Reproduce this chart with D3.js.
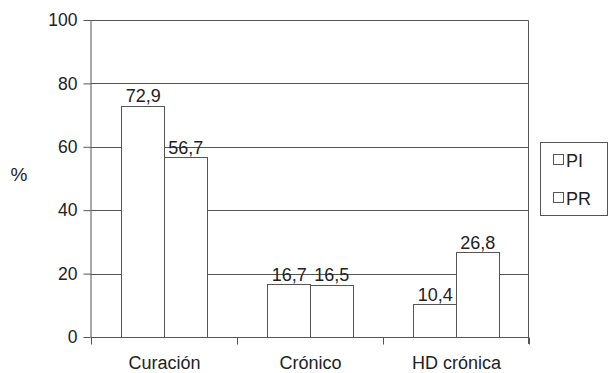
<!DOCTYPE html>
<html>
<head>
<meta charset="utf-8">
<script src="https://cdnjs.cloudflare.com/ajax/libs/d3/7.8.5/d3.min.js"></script>
<style>
  html, body { margin: 0; padding: 0; background: #fff; }
  svg { display: block; font-family: "Liberation Sans", Arial, Helvetica, sans-serif; }
</style>
</head>
<body>
<svg id="chart" width="609" height="373"></svg>
<script>
// Outcome categories and percentages per group
const categories = ["Curación", "Crónico", "HD crónica"];
const seriesNames = ["PI", "PR"];
const valuesPI = [72.9, 16.7, 10.4];
const valuesPR = [56.7, 16.5, 26.8];
const yTicks = [0, 20, 40, 60, 80, 100];

const fmt = v => String(v).replace(".", ",");

const svg = d3.select("#chart");
const margin = { left: 90.5, right: 528.5, top: 20, bottom: 337 };
const lineColor = "#555";
const textColor = "#222";

const x = d3.scaleBand()
  .domain(categories)
  .range([margin.left, margin.right])
  .paddingInner(0)
  .paddingOuter(0);

const inner = d3.scaleBand()
  .domain(seriesNames)
  .range([0, x.bandwidth()])
  .paddingOuter(0.717)
  .paddingInner(0);

const y = d3.scaleLinear().domain([0, 100]).range([margin.bottom, margin.top]);

// Horizontal gridlines
svg.append("g")
  .selectAll("line")
  .data(yTicks.filter(t => t > 0))
  .join("line")
  .attr("x1", margin.left).attr("x2", margin.right)
  .attr("y1", d => Math.round(y(d)) + 0.5).attr("y2", d => Math.round(y(d)) + 0.5)
  .attr("stroke", lineColor).attr("stroke-width", 1);

// Right border of plot area
svg.append("line")
  .attr("x1", margin.right).attr("x2", margin.right)
  .attr("y1", Math.round(y(100)) + 0.5).attr("y2", Math.round(y(0)) + 7)
  .attr("stroke", lineColor);

// Bars
const rows = [];
categories.forEach((c, i) => {
  rows.push({ cat: c, s: "PI", v: valuesPI[i] });
  rows.push({ cat: c, s: "PR", v: valuesPR[i] });
});

svg.append("g")
  .selectAll("rect")
  .data(rows)
  .join("rect")
  .attr("x", d => Math.round(x(d.cat) + inner(d.s)) + 0.5)
  .attr("y", d => Math.round(y(d.v)) + 0.5)
  .attr("width", Math.round(inner.bandwidth()))
  .attr("height", d => Math.round(y(0)) - Math.round(y(d.v)))
  .attr("fill", "#fff")
  .attr("stroke", lineColor)
  .attr("stroke-width", 1);

// Value labels
svg.append("g")
  .selectAll("text")
  .data(rows)
  .join("text")
  .attr("x", d => x(d.cat) + inner(d.s) + inner.bandwidth() / 2 + 1)
  .attr("y", d => y(d.v) - 3.5)
  .attr("text-anchor", "middle")
  .attr("font-size", 18)
  .attr("fill", textColor)
  .text(d => fmt(d.v));

// Y axis
const yAxis = svg.append("g")
  .attr("transform", `translate(${margin.left},0)`)
  .call(d3.axisLeft(y).tickValues(yTicks).tickSize(7).tickPadding(6));
yAxis.selectAll("line, path").attr("stroke", lineColor);
yAxis.select(".domain").attr("d", `M0.5,${y(100)}V${y(0)}`);
yAxis.selectAll("text").attr("font-size", 17.5).attr("fill", textColor)
  .attr("font-family", "'Liberation Sans', Arial, sans-serif");

// X axis with category separator ticks
const xAxisG = svg.append("g").attr("transform", `translate(0,${Math.round(y(0)) + 0.5})`);
xAxisG.append("line")
  .attr("x1", margin.left).attr("x2", margin.right)
  .attr("stroke", lineColor);
const bounds = categories.map(c => x(c)).concat([margin.right]);
xAxisG.selectAll("line.sep")
  .data(bounds)
  .join("line")
  .attr("class", "sep")
  .attr("x1", d => Math.round(d) + 0.5).attr("x2", d => Math.round(d) + 0.5)
  .attr("y1", 0).attr("y2", 7)
  .attr("stroke", lineColor);
xAxisG.selectAll("text")
  .data(categories)
  .join("text")
  .attr("x", d => x(d) + x.bandwidth() / 2 + 1)
  .attr("y", 31)
  .attr("text-anchor", "middle")
  .attr("font-size", 18)
  .attr("fill", textColor)
  .text(d => d);

// Y axis title
svg.append("text")
  .attr("x", 19).attr("y", 181)
  .attr("text-anchor", "middle")
  .attr("font-size", 19)
  .attr("fill", textColor)
  .text("%");

// Legend
const legend = svg.append("g");
legend.append("rect")
  .attr("x", 540.5).attr("y", 142.5)
  .attr("width", 67).attr("height", 73)
  .attr("fill", "#fff").attr("stroke", lineColor);
const legY = d3.scalePoint().domain(seriesNames).range([160, 198]);
const item = legend.selectAll("g.item")
  .data(seriesNames)
  .join("g")
  .attr("class", "item");
item.append("rect")
  .attr("x", 553.5).attr("y", d => legY(d) - 5.5)
  .attr("width", 10).attr("height", 10)
  .attr("fill", "#fff").attr("stroke", lineColor);
item.append("text")
  .attr("x", 566).attr("y", d => legY(d) + 6.5)
  .attr("font-size", 18)
  .attr("fill", textColor)
  .text(d => d);
</script>
</body>
</html>
